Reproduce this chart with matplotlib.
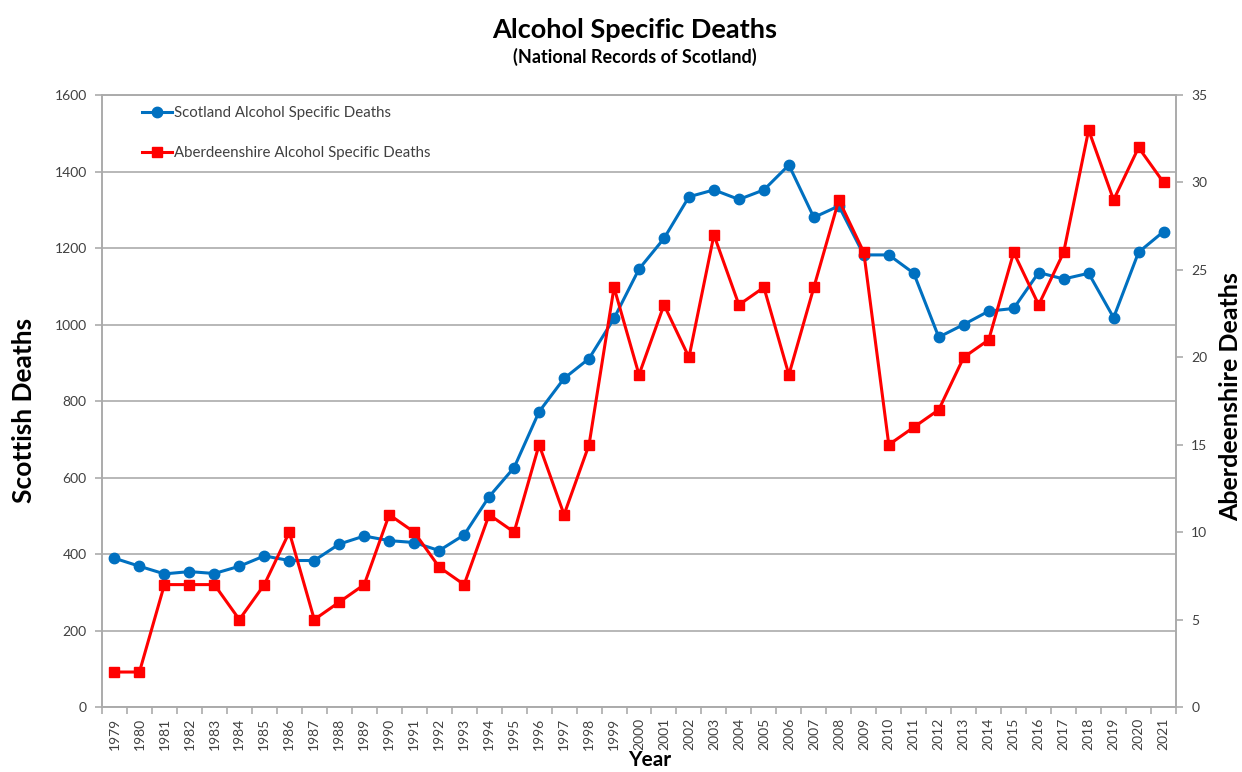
import matplotlib
matplotlib.use("Agg")
import matplotlib.pyplot as plt
import numpy as np

plt.rcParams["font.family"] = ["Lato", "DejaVu Sans"]

# ---------------------------------------------------------------------------
# Data
# ---------------------------------------------------------------------------
years = list(range(1979, 2022))
scotland_deaths = [
    389, 368, 348, 354, 349, 368, 395, 383, 383, 426,
    447, 435, 430, 409, 450, 550, 626, 772, 859, 911,
    1016, 1145, 1225, 1334, 1352, 1327, 1352, 1417, 1280, 1310,
    1182, 1182, 1134, 967, 1000, 1035, 1042, 1136, 1119, 1134,
    1018, 1189, 1243,
]
aberdeenshire_deaths = [
    2, 2, 7, 7, 7, 5, 7, 10, 5, 6,
    7, 11, 10, 8, 7, 11, 10, 15, 11, 15,
    24, 19, 23, 20, 27, 23, 24, 19, 24, 29,
    26, 15, 16, 17, 20, 21, 26, 23, 26, 33,
    29, 32, 30,
]

BLUE = "#0070C0"
RED = "#FF0000"
GRID = "#ababab"
TICK_TXT = "#404040"

fig = plt.figure(figsize=(12.42, 7.72), dpi=100)
ax = fig.add_axes([0.0821, 0.0842, 0.8648, 0.7927])
ax2 = ax.twinx()

x = np.arange(len(years))

l1, = ax.plot(x, scotland_deaths, color=BLUE, lw=2.2, marker="o",
              ms=7.5, label="Scotland Alcohol Specific Deaths", zorder=3)
l2, = ax2.plot(x, aberdeenshire_deaths, color=RED, lw=2.2, marker="s",
               ms=7.5, label="Aberdeenshire Alcohol Specific Deaths", zorder=3)

# Left axis
ax.set_ylim(0, 1600)
ax.set_yticks(np.arange(0, 1601, 200))
ax.yaxis.grid(True, color=GRID, lw=1.2)
ax.set_axisbelow(True)

# Right axis
ax2.set_ylim(0, 35)
ax2.set_yticks(np.arange(0, 36, 5))

# Category x axis with ticks between categories
ax.set_xlim(-0.5, len(years) - 0.5)
ax.set_xticks(x)
ax.set_xticklabels([str(y) for y in years], rotation=90)
ax.set_xticks(np.arange(-0.5, len(years), 1.0), minor=True)
ax.tick_params(axis="x", which="major", length=0, pad=8,
               labelsize=10, labelcolor=TICK_TXT)
ax.tick_params(axis="x", which="minor", length=5, color=GRID, width=1.2)
ax.tick_params(axis="y", length=5, color=GRID, width=1.2,
               labelsize=10, labelcolor=TICK_TXT, pad=6)
ax2.tick_params(axis="y", length=5, color=GRID, width=1.2,
                labelsize=10, labelcolor=TICK_TXT, pad=6)

for a in (ax, ax2):
    for side, sp in a.spines.items():
        sp.set_color(GRID)
        sp.set_linewidth(1.2)

# Legend (no frame, wide spacing)
ax.legend(handles=[l1, l2], loc="upper left", bbox_to_anchor=(0.025, 1.004),
          frameon=False, fontsize=10.8, labelspacing=1.75, handlelength=2.0,
          handletextpad=0.1, labelcolor=TICK_TXT)

# Titles and axis labels
fig.text(0.511, 0.961, "Alcohol Specific Deaths", ha="center", va="center",
         fontsize=19.5, fontweight="bold")
fig.text(0.511, 0.926, "(National Records of Scotland)", ha="center",
         va="center", fontsize=13, fontweight="bold")
fig.text(0.019, 0.468, "Scottish Deaths", rotation=90, ha="center",
         va="center", fontsize=19, fontweight="bold")
fig.text(0.991, 0.486, "Aberdeenshire Deaths", rotation=90, ha="center",
         va="center", fontsize=18, fontweight="bold")
fig.text(0.523, 0.003, "Year", ha="center", va="bottom",
         fontsize=15, fontweight="bold")

fig.savefig("out.png", dpi=100)
